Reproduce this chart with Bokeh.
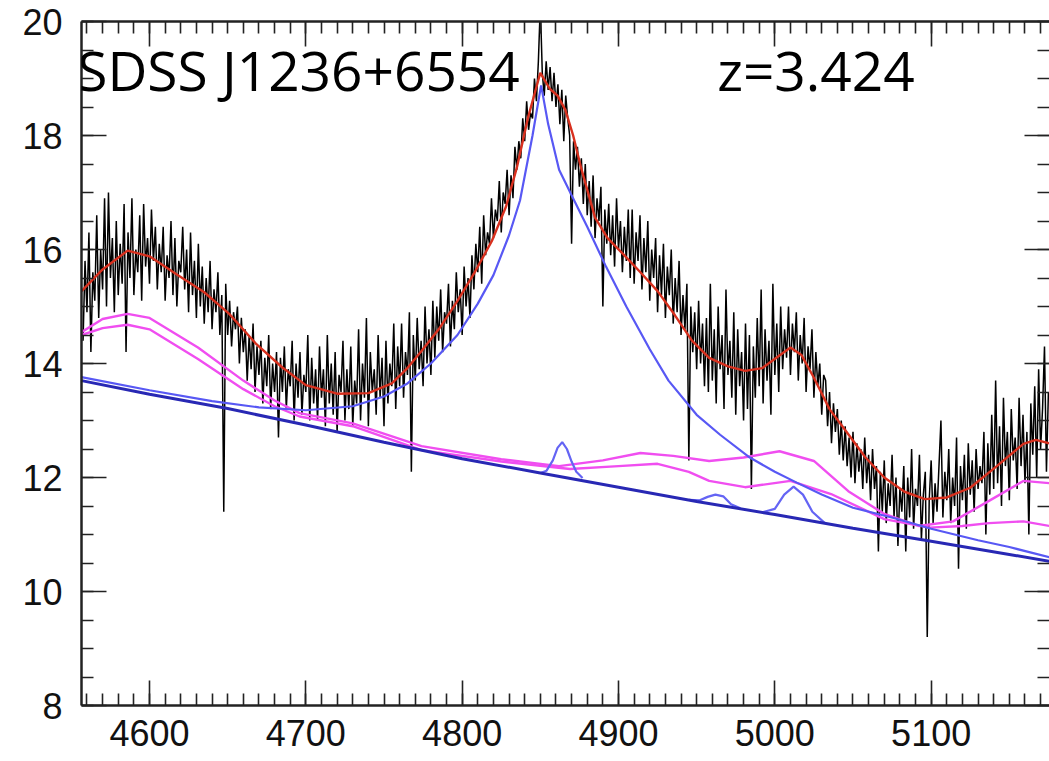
from bokeh.plotting import figure
from bokeh.models import Range1d, LinearAxis, SingleIntervalTicker, Label, CustomJSTickFormatter
from bokeh.embed import file_html
from bokeh.resources import INLINE

# ---------------- data ----------------
# observed spectrum, 1.25 A sampling starting at 4557.5 A
spec_start = 4557.5
spec_step = 1.25
spec_flux = [
    14.4, 15.8, 14.9, 16.3, 14.2, 15.6, 15.1, 16.6, 14.8, 16.0, 15.3, 16.9, 15.0, 17.0, 15.5, 16.2, 14.9, 16.5, 15.2, 16.1,
    15.4, 16.8, 14.2, 16.3, 15.5, 16.9, 15.2, 16.0, 15.6, 16.6, 15.1, 16.8, 15.7, 16.2, 15.4, 16.7, 15.8, 16.4, 15.3, 16.1,
    15.6, 16.4, 15.1, 15.9, 15.5, 16.5, 15.2, 16.2, 15.0, 15.8, 15.6, 16.4, 15.3, 16.0, 14.9, 16.3, 15.2, 15.8, 14.8, 16.1,
    15.0, 15.7, 14.7, 15.5, 14.9, 15.8, 14.6, 15.3, 14.9, 15.6, 14.5, 15.2, 11.4, 15.4, 14.5, 15.1, 14.3, 14.9, 14.6, 15.0,
    14.0, 14.8, 14.2, 14.6, 13.7, 14.5, 13.9, 14.7, 13.5, 14.3, 13.8, 14.4, 13.3, 14.1, 13.6, 14.5, 13.2, 14.0, 13.5, 14.2,
    12.7, 14.1, 13.5, 14.3, 13.2, 13.9, 13.6, 14.4, 13.0, 14.0, 13.4, 14.2, 13.1, 13.8, 13.5, 14.5, 13.0, 14.1, 13.3, 13.9,
    13.0, 14.3, 13.4, 13.9, 12.9, 14.5, 13.3, 14.0, 13.1, 14.2, 12.8, 13.8, 13.5, 14.4, 13.0, 13.9, 13.2, 14.3, 12.9, 13.7,
    13.3, 14.6, 13.0, 14.0, 13.4, 14.8, 12.9, 14.2, 13.5, 13.9, 13.1, 14.5, 13.4, 14.1, 12.9, 14.4, 13.3, 14.0, 13.6, 14.7,
    13.2, 14.3, 13.6, 14.7, 13.4, 14.2, 13.8, 14.9, 12.1, 14.5, 13.7, 14.8, 13.9, 14.4, 13.6, 15.0, 14.0, 14.6, 13.8, 15.1,
    14.1, 15.0, 14.4, 15.3, 14.2, 14.9, 14.7, 15.4, 14.3, 15.1, 14.6, 15.6, 14.9, 15.3, 14.5, 15.7, 15.0, 15.5, 14.8, 15.9,
    15.3, 16.1, 15.6, 16.4, 15.4, 16.6, 15.9, 16.3, 16.1, 16.9, 16.2, 16.7, 16.5, 17.2, 16.3, 17.0, 16.8, 17.4, 16.6, 17.3,
    16.9, 17.8, 17.4, 17.9, 17.6, 18.3, 17.9, 18.6, 18.1, 18.4, 18.3, 19.0, 18.6, 19.3, 20.3, 19.1, 18.7, 19.3, 18.8, 19.2,
    18.6, 19.1, 18.5, 18.9, 18.2, 18.8, 17.9, 18.7, 18.3, 18.0, 16.1, 17.9, 17.4, 17.8, 17.1, 17.6, 16.8, 17.5, 16.6, 17.2,
    16.4, 17.3, 16.2, 16.9, 16.5, 17.1, 15.0, 16.7, 16.1, 16.8, 15.9, 16.6, 15.7, 16.9, 16.0, 16.5, 15.6, 16.4, 15.8, 16.7,
    15.5, 16.7, 15.4, 16.3, 15.8, 16.6, 15.3, 16.2, 15.6, 16.5, 15.1, 16.0, 15.5, 16.2, 14.9, 15.9, 15.2, 16.1, 14.8, 15.7,
    15.2, 16.0, 14.7, 15.5, 14.9, 15.8, 14.5, 15.2, 14.6, 15.4, 12.3, 15.0, 14.2, 14.9, 13.9, 15.1, 14.0, 14.7, 13.6, 14.8,
    13.5, 15.4, 13.7, 14.6, 13.3, 15.0, 13.9, 14.5, 13.2, 15.3, 13.8, 14.4, 13.4, 14.9, 13.1, 14.6, 13.6, 14.2, 13.0, 14.7,
    13.2, 14.5, 11.8, 14.3, 13.4, 14.8, 13.6, 15.3, 13.3, 14.6, 13.7, 14.4, 13.1, 15.4, 13.8, 14.7, 13.5, 15.0, 13.9, 14.6,
    14.1, 15.0, 13.8, 14.7, 14.2, 14.9, 13.7, 14.5, 14.0, 14.8, 13.5, 14.3, 13.9, 14.6, 13.4, 14.2, 13.6, 14.0, 13.1, 13.8,
    13.7, 12.9, 13.5, 12.6, 13.3, 12.8, 13.2, 12.4, 13.0, 12.3, 12.9, 12.2, 12.7, 12.0, 12.8, 11.9, 12.6, 12.1, 12.5, 11.8,
    12.7, 11.9, 12.4, 11.6, 12.5, 11.8, 12.2, 10.7, 12.1, 11.4, 12.3, 11.2, 11.9, 11.5, 12.4, 11.3, 12.0, 10.8, 11.8, 11.4,
    12.2, 10.7, 12.0, 11.3, 12.5, 11.1, 11.8, 11.5, 12.4, 10.9, 11.7, 12.1, 9.2, 11.6, 12.3, 11.2, 11.9, 11.4, 12.2, 13.0,
    11.3, 12.1, 11.6, 12.5, 11.2, 12.0, 11.5, 12.7, 10.4, 12.2, 11.6, 12.4, 11.1, 12.6, 11.7, 12.3, 11.4, 12.5, 11.8, 12.2,
    11.9, 12.8, 11.0, 12.6, 11.7, 13.1, 11.8, 13.7, 11.9, 12.9, 11.5, 13.4, 12.2, 12.8, 11.6, 13.2, 12.3, 12.7, 11.8, 13.4,
    12.2, 13.1, 11.9, 12.8, 11.0, 13.3, 12.4, 13.6, 12.0, 13.9, 12.5, 13.2, 14.3, 12.1, 13.5,
]
spec_wave = [spec_start + spec_step * i for i in range(len(spec_flux))]

# total model (red)
red_wave = [4556.5, 4570, 4586, 4600, 4617, 4635, 4651, 4668, 4685, 4700, 4720, 4740,
            4755, 4765, 4774, 4785, 4797, 4808, 4819, 4828, 4835, 4842, 4850, 4856,
            4861, 4866, 4871, 4876, 4885, 4893, 4903, 4914, 4925, 4936, 4947, 4958, 4970,
            4981, 4992, 5001, 5010, 5017, 5025, 5035, 5047, 5058, 5070, 5083, 5096,
            5110, 5125, 5142, 5159, 5167, 5175.7]
red_flux = [15.27, 15.65, 15.98, 15.88, 15.57, 15.25, 14.87, 14.35, 13.93, 13.62, 13.47, 13.48,
            13.65, 13.92, 14.22, 14.6, 15.1, 15.6, 16.15, 16.75, 17.44, 18.3, 19.1, 18.82,
            18.7, 18.45, 18.0, 17.44, 16.56, 16.2, 15.92, 15.6, 15.27, 14.85, 14.4, 14.1, 13.95,
            13.87, 13.92, 14.1, 14.28, 14.15, 13.75, 13.2, 12.76, 12.35, 12.0, 11.75, 11.62,
            11.65, 11.82, 12.2, 12.59, 12.66, 12.6]

# power-law continuum (dark blue)
cont_wave = [4556.5, 4600, 4650, 4700, 4750, 4800, 4850, 4900, 4950, 5000, 5050, 5100, 5150, 5175.7]
cont_flux = [13.70, 13.46, 13.21, 12.92, 12.62, 12.33, 12.08, 11.83, 11.58, 11.35, 11.11, 10.88, 10.65, 10.53]

# continuum + broad line (blue)
broad_wave = [4556.5, 4600, 4640, 4670, 4700, 4730, 4750, 4765, 4780, 4797, 4810, 4820,
              4830, 4837, 4845, 4850.5, 4855, 4862, 4870, 4880, 4892, 4905, 4920, 4932,
              4950, 4965, 4984, 5000, 5014, 5030, 5050, 5076, 5100, 5130, 5150, 5175.7]
broad_flux = [13.76, 13.53, 13.34, 13.23, 13.18, 13.25, 13.42, 13.65, 14.0, 14.5, 15.05, 15.55,
              16.25, 16.86, 18.0, 18.88, 18.2, 17.4, 16.95, 16.4, 15.7, 15.0, 14.25, 13.7,
              13.1, 12.75, 12.35, 12.1, 11.91, 11.7, 11.47, 11.29, 11.1, 10.9, 10.78, 10.6]

# narrow lines on the continuum (blue)
n1_wave = [4850, 4854, 4858, 4861, 4864, 4867, 4870, 4873, 4877]
n1_flux = [12.08, 12.12, 12.30, 12.52, 12.62, 12.50, 12.28, 12.10, 11.99]
n2_wave = [4945, 4952, 4957, 4962, 4967, 4972, 4978]
n2_flux = [11.61, 11.60, 11.66, 11.70, 11.67, 11.53, 11.46]
n3_wave = [4992, 5000, 5006, 5012, 5018, 5024, 5032]
n3_flux = [11.39, 11.45, 11.70, 11.84, 11.70, 11.40, 11.20]

# continuum + Fe II templates (magenta)
feu_wave = [4556.5, 4570, 4586, 4600, 4631, 4660, 4680, 4696, 4730, 4774, 4825, 4862, 4890,
            4914, 4935, 4958, 4980, 5003, 5025, 5047, 5070, 5092, 5114, 5137, 5159, 5175.7]
feu_flux = [14.55, 14.78, 14.87, 14.80, 14.28, 13.70, 13.35, 13.13, 12.95, 12.55, 12.32, 12.20, 12.30,
            12.43, 12.38, 12.29, 12.35, 12.46, 12.29, 11.76, 11.36, 11.15, 11.23, 11.59, 11.94, 11.90]
fel_wave = [4556.5, 4570, 4586, 4600, 4631, 4660, 4680, 4696, 4730, 4774, 4825, 4869, 4900,
            4925, 4945, 4958, 4981, 5010, 5036, 5070, 5099, 5120, 5137, 5159, 5175.7]
fel_flux = [14.50, 14.62, 14.68, 14.60, 14.08, 13.55, 13.25, 13.07, 12.90, 12.48, 12.28, 12.15, 12.20,
            12.24, 12.10, 11.94, 11.83, 11.94, 11.71, 11.27, 11.12, 11.15, 11.20, 11.23, 11.15]

title_text = "SDSS J1236+6554"
z_text = "z=3.424"

# ---------------- figure ----------------
p = figure(width=1049, height=760,
           x_range=Range1d(4556.5, 5175.7), y_range=Range1d(8, 20),
           output_backend="svg", toolbar_location=None,
           min_border_left=81, min_border_right=0, min_border_top=21, min_border_bottom=55)
p.outline_line_color = None
p.xgrid.visible = False
p.ygrid.visible = False
p.background_fill_color = "white"
p.border_fill_color = "white"

xt = SingleIntervalTicker(interval=100, num_minor_ticks=10)
yt = SingleIntervalTicker(interval=2, num_minor_ticks=4)

def style(ax, labels=True, line=True):
    ax.major_tick_in = 25
    ax.major_tick_out = 0
    ax.minor_tick_in = 12
    ax.minor_tick_out = 0
    ax.major_tick_line_color = "#222222"
    ax.minor_tick_line_color = "#222222"
    ax.major_tick_line_width = 1.6
    ax.minor_tick_line_width = 1.6
    ax.axis_line_color = "#222222" if line else None
    ax.axis_line_width = 2.5
    if labels:
        ax.major_label_text_font = "Liberation Sans"
        ax.major_label_text_font_size = "36px"
        ax.major_label_text_color = "#111111"
    else:
        ax.formatter = CustomJSTickFormatter(code="return ''")
        ax.major_label_text_font_size = "1px"
        ax.major_label_standoff = 0

p.xaxis.ticker = xt
p.yaxis.ticker = yt
style(p.xaxis[0])
style(p.yaxis[0])
p.xaxis.major_label_standoff = 14
p.yaxis.major_label_standoff = 19

top = LinearAxis(ticker=xt)
style(top, labels=False)
p.add_layout(top, "above")
right = LinearAxis(ticker=yt)
style(right, labels=False, line=False)
p.add_layout(right, "right")

# ---------------- glyphs ----------------
p.line(spec_wave, spec_flux, line_color="black", line_width=1.5)
p.line(feu_wave, feu_flux, line_color="#f04ef0", line_width=2.4)
p.line(fel_wave, fel_flux, line_color="#f04ef0", line_width=2.4)
p.line(broad_wave, broad_flux, line_color="#5858f4", line_width=2.2)
for wv, fl in ((n1_wave, n1_flux), (n2_wave, n2_flux), (n3_wave, n3_flux)):
    p.line(wv, fl, line_color="#6464f4", line_width=2.2)
p.line(cont_wave, cont_flux, line_color="#2828b4", line_width=3)
p.line(red_wave, red_flux, line_color="#d8301e", line_width=2.4)

p.add_layout(Label(x=4553.8, y=19.16, text=title_text, text_font="Open Sans",
                   text_font_size="55px", text_color="black", text_baseline="middle"))
p.add_layout(Label(x=4963.1, y=19.16, text=z_text, text_font="Open Sans",
                   text_font_size="55px", text_color="black", text_baseline="middle"))

open("out.html", "w").write(file_html(p, INLINE))
